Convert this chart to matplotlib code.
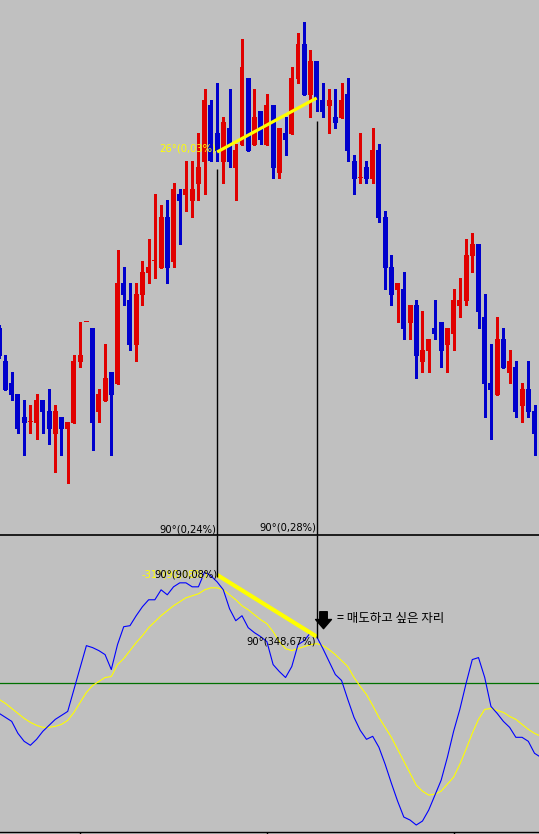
import matplotlib
matplotlib.use('Agg')
import matplotlib.pyplot as plt
import numpy as np

# candle data (price units)
opens = [206, 173, 151, 140, 117, 112, 111, 134, 123, 100,
         117, 105, 111, 172, 212, 206, 122, 133, 162, 150,
         251, 234, 189, 239, 261, 273, 266, 317, 272, 340,
         339, 333, 350, 372, 429, 401, 372, 406, 366, 389,
         456, 389, 423, 389, 429, 361, 401, 400, 455, 490,
         439, 473, 434, 428, 417, 416, 440, 373, 356, 367,
         355, 384, 317, 267, 244, 245, 211, 229, 172, 183,
         206, 212, 189, 200, 228, 233, 278, 290, 217, 151,
         139, 195, 161, 167, 128, 145, 123]
highs = [209, 179, 162, 140, 134, 129, 140, 134, 145, 129,
         117, 112, 179, 212, 212, 206, 145, 190, 162, 284,
         267, 251, 251, 273, 295, 340, 329, 334, 351, 345,
         373, 373, 401, 445, 434, 451, 417, 445, 390, 495,
         456, 445, 423, 440, 429, 406, 417, 467, 501, 512,
         484, 473, 451, 445, 445, 451, 456, 379, 401, 373,
         406, 390, 323, 279, 251, 262, 229, 234, 223, 195,
         234, 212, 206, 245, 256, 295, 301, 290, 240, 190,
         217, 206, 184, 173, 151, 173, 129]
lows = [176, 144, 134, 101, 79, 101, 95, 101, 90, 62,
        79, 51, 111, 167, 212, 84, 112, 133, 79, 150,
        229, 184, 173, 229, 251, 256, 266, 251, 267, 290,
        323, 317, 334, 340, 373, 373, 351, 367, 334, 389,
        383, 389, 390, 389, 356, 356, 379, 400, 451, 439,
        417, 423, 417, 401, 406, 416, 373, 340, 351, 351,
        351, 312, 245, 229, 212, 195, 195, 156, 162, 162,
        195, 167, 162, 184, 217, 229, 262, 206, 117, 95,
        139, 166, 151, 117, 112, 117, 79]
closes = [178, 144, 139, 105, 111, 112, 134, 122, 105, 123,
          105, 112, 173, 179, 212, 111, 140, 156, 139, 251,
          239, 189, 240, 262, 267, 273, 317, 266, 345, 333,
          345, 345, 367, 434, 373, 383, 412, 372, 384, 467,
          383, 417, 394, 429, 366, 406, 394, 456, 490, 439,
          473, 434, 422, 434, 411, 434, 383, 355, 356, 355,
          384, 316, 266, 239, 251, 205, 229, 178, 184, 195,
          200, 183, 206, 234, 234, 279, 290, 222, 150, 144,
          195, 166, 173, 122, 145, 122, 100]

# oscillator (blue) and its signal (yellow)
osc = [-31, -35, -39, -51, -59, -63, -57, -49, -43, -37,
       -33, -29, -7, 15, 37, 35, 32, 28, 13, 38,
       56, 57, 67, 76, 83, 83, 93, 88, 96, 100,
       100, 96, 96, 111, 107, 101, 93, 74, 62, 67,
       55, 50, 46, 41, 18, 11, 5, 16, 38, 42,
       50, 46, 34, 21, 8, 2, -17, -35, -48, -57,
       -54, -65, -82, -101, -119, -135, -138, -143, -139, -128,
       -113, -98, -75, -49, -27, -1, 23, 25, 5, -24,
       -31, -39, -45, -55, -55, -59, -71, -75]
signal = [-17, -21, -26, -31, -36, -40, -43, -45, -45, -44,
          -42, -38, -30, -20, -10, -3, 1, 5, 6, 18,
          24, 32, 40, 47, 55, 61, 67, 72, 77, 81,
          85, 87, 89, 93, 95, 95, 93, 88, 83, 77,
          73, 68, 63, 59, 51, 41, 34, 32, 34, 36,
          38, 39, 37, 33, 28, 22, 16, 5, -4, -12,
          -23, -35, -45, -55, -67, -79, -91, -103, -109, -113,
          -112, -109, -102, -95, -82, -67, -51, -37, -27, -26,
          -28, -30, -34, -37, -42, -47, -51, -54]

# trend line marks
trend_idx = [35, 51]
price_trend = [382, 436]
osc_trend = [108, 46]
price_vline_top = [365, 413]
osc_vline_bottom = [106, 45]
tick_idx = [13, 43, 73]

BG = '#c0c0c0'
UP = '#e00000'
DOWN = '#0000cc'

fig = plt.figure(figsize=(5.39, 8.34), dpi=100, facecolor=BG)
ax1 = fig.add_axes([0, 299 / 834, 1, 535 / 834])
ax2 = fig.add_axes([0, 2 / 834, 1, 297 / 834])

x = np.arange(len(opens))
o = np.array(opens)
c = np.array(closes)
colors = [UP if cc >= oo else DOWN for oo, cc in zip(o, c)]
bottoms = np.minimum(o, c)
heights = np.maximum(np.abs(c - o), 1)

ax1.vlines(x, lows, highs, colors=colors, linewidth=0.8, antialiased=False)
ax1.bar(x, heights, bottom=bottoms, width=0.8, color=colors, linewidth=0, antialiased=False)

ax1.plot(trend_idx, price_trend, color='#ffff00', linewidth=2.3, solid_capstyle='butt')
for i, top in zip(trend_idx, price_vline_top):
    ax1.vlines(i, -1, top, colors='black', linewidth=1.0)

ax1.text(34.9, 382.5, '26°(0,03%)', color='#ffff00', fontsize=7.2, ha='right', va='baseline')
ax1.text(34.8, 2, '90°(0,24%)', color='black', fontsize=7.2, ha='right', va='baseline')
ax1.text(50.9, 4, '90°(0,28%)', color='black', fontsize=7.2, ha='right', va='baseline')

ax1.set_xlim(0.12, 86.72)
ax1.set_ylim(-1, 534)
ax1.set_facecolor(BG)
ax1.axis('off')

# lower panel
xi = np.arange(len(osc))
ax2.axhline(0, color='#007000', linewidth=0.9)
ax2.plot(xi, signal, color='#ffff00', linewidth=0.8)
ax2.plot(xi, osc, color='#0000ff', linewidth=0.8)
ax2.plot(trend_idx, osc_trend, color='#ffff00', linewidth=3.0, solid_capstyle='butt')
for i, bot in zip(trend_idx, osc_vline_bottom):
    ax2.vlines(i, bot, 148, colors='black', linewidth=1.0)

ax2.text(22.9, 105, '-31°(90,08%)', color='#ffff00', fontsize=7.2, ha='left', va='baseline')
ax2.text(24.9, 105, '90°(90,08%)', color='black', fontsize=7.2, ha='left', va='baseline')
ax2.text(50.9, 38, '90°(348,67%)', color='black', fontsize=7.2, ha='right', va='baseline')

ax2.annotate('', xy=(52.1, 54), xytext=(52.1, 71),
             arrowprops=dict(arrowstyle='simple,head_length=0.55,head_width=0.95,tail_width=0.45',
                             color='black', shrinkA=0, shrinkB=0, mutation_scale=12))
ax2.text(54.3, 64, '= 매도하고 싶은 자리', color='black', fontsize=9, ha='left', va='center',
         family=['Noto Sans CJK KR', 'DejaVu Sans'])

ax2.set_xlim(0.12, 86.72)
ax2.set_ylim(-150, 148)
ax2.set_facecolor(BG)
for s in ['left', 'right']:
    ax2.spines[s].set_visible(False)
ax2.spines['top'].set_linewidth(1.2)
ax2.spines['bottom'].set_linewidth(1.0)
ax2.set_xticks(tick_idx)
ax2.set_xticklabels([])
ax2.set_yticks([])
ax2.tick_params(axis='x', direction='out', length=3, width=1, colors='black')

fig.savefig('out.png', dpi=100, facecolor=BG)
